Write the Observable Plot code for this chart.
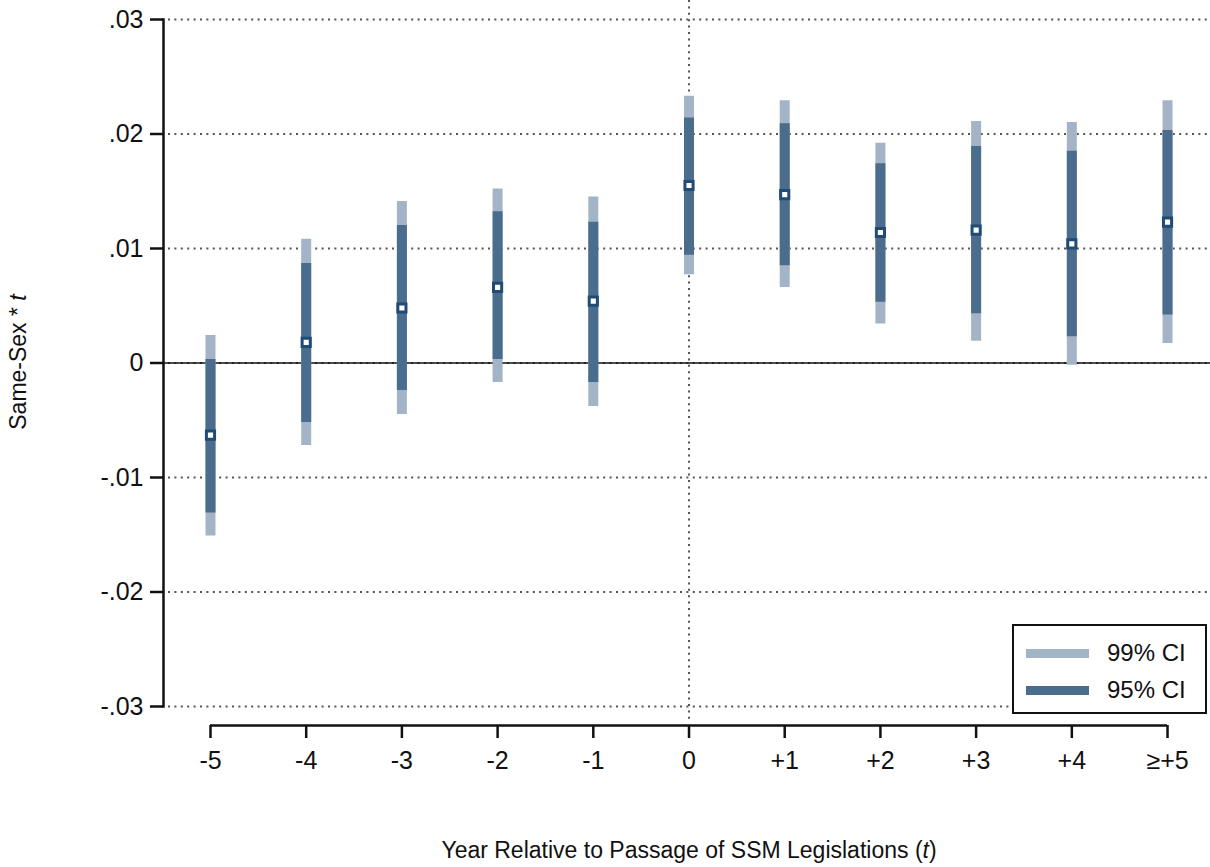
<!DOCTYPE html>
<html>
<head>
<meta charset="utf-8">
<script src="https://cdn.jsdelivr.net/npm/d3@7"></script>
<script src="https://cdn.jsdelivr.net/npm/@observablehq/plot@0.6"></script>
<style>
  html, body { margin: 0; padding: 0; background: #fff; }
  #wrap { position: relative; width: 1210px; height: 867px; font-family: "Liberation Sans", Arial, sans-serif; color: #111; }
  #wrap svg { position: absolute; left: 0; top: 0; }
  .ytitle { position: absolute; left: 18px; top: 362px; transform: translate(-50%, -50%) rotate(-90deg); font-size: 23px; white-space: nowrap; }
  .xtitle { position: absolute; left: 689px; top: 850px; transform: translate(-50%, -50%); font-size: 23px; white-space: nowrap; }
  .legend { position: absolute; left: 1012px; top: 624px; width: 191px; height: 86px; border: 2px solid #111; background: #fff; }
  .legend .row { position: absolute; left: 12px; height: 30px; display: flex; align-items: center; }
  .legend .sw { width: 63px; height: 9px; margin-right: 18px; }
  .legend .lab { font-size: 24px; }
</style>
</head>
<body>
<div id="wrap"></div>
<script>
const labels = ["-5", "-4", "-3", "-2", "-1", "0", "+1", "+2", "+3", "+4", "≥+5"];
const coef = [-0.0063, 0.0018, 0.0048, 0.0066, 0.0054, 0.0155, 0.0147, 0.0114, 0.0116, 0.0104, 0.0123];
const lo95 = [-0.0131, -0.0052, -0.0024, 0.0003, -0.0017, 0.0094, 0.0085, 0.0053, 0.0043, 0.0023, 0.0042];
const hi95 = [0.0003, 0.0087, 0.0120, 0.0132, 0.0123, 0.0214, 0.0209, 0.0174, 0.0189, 0.0185, 0.0203];
const lo99 = [-0.0151, -0.0072, -0.0045, -0.0017, -0.0038, 0.0077, 0.0066, 0.0034, 0.0019, -0.0002, 0.0017];
const hi99 = [0.0024, 0.0108, 0.0141, 0.0152, 0.0145, 0.0233, 0.0229, 0.0192, 0.0211, 0.0210, 0.0229];
const yTicks = [-0.03, -0.02, -0.01, 0, 0.01, 0.02, 0.03];
const yTickLabels = ["-.03", "-.02", "-.01", "0", ".01", ".02", ".03"];

const c99 = "#a3b4c6";
const c95 = "#4a6c8d";
const cMark = "#1f4b75";

const rows = labels.map((l, i) => ({i, label: l, coef: coef[i], lo95: lo95[i], hi95: hi95[i], lo99: lo99[i], hi99: hi99[i]}));
const zeroIndex = labels.indexOf("0");

const chart = Plot.plot({
  width: 1210,
  height: 867,
  marginLeft: 163,
  marginRight: 0,
  marginTop: 19,
  marginBottom: 161,
  style: {fontFamily: "'Liberation Sans', Arial, sans-serif", fontSize: "23px", color: "#111", background: "transparent"},
  x: {type: "linear", domain: [-0.491, 10.449], axis: null},
  y: {domain: [-0.03, 0.03], axis: null},
  marks: [
    Plot.gridY(yTicks, {stroke: "#555", strokeOpacity: 1, strokeWidth: 2, strokeDasharray: "2,4.4", insetLeft: 5}),
    Plot.ruleX([zeroIndex], {stroke: "#555", strokeWidth: 2, strokeDasharray: "2,4.4", insetTop: -19, insetBottom: -13}),
    Plot.ruleY([0], {stroke: "#111", strokeWidth: 1.5}),
    Plot.ruleX(rows, {x: "i", y1: "lo99", y2: "hi99", stroke: c99, strokeWidth: 10}),
    Plot.ruleX(rows, {x: "i", y1: "lo95", y2: "hi95", stroke: c95, strokeWidth: 10}),
    Plot.dot(rows, {x: "i", y: "coef", symbol: "square", r: 4.6, fill: "white", stroke: cMark, strokeWidth: 3}),
    Plot.frame({anchor: "left", stroke: "#111", strokeWidth: 2.5}),
    Plot.axisY(yTicks, {tickFormat: (d, k) => yTickLabels[k], tickSize: 13, tickPadding: 7, fontSize: 25, strokeWidth: 2.5, label: null}),
    Plot.ruleY([-0.03], {x1: 0, x2: labels.length - 1, dy: 19, stroke: "#111", strokeWidth: 2.5}),
    Plot.axisX(d3.range(labels.length), {tickFormat: d => labels[d], tickSize: 13, tickPadding: 13, dy: 19, fontSize: 25, strokeWidth: 2.5, label: null})
  ]
});

const wrap = document.getElementById("wrap");
wrap.appendChild(chart);

const yt = document.createElement("div");
yt.className = "ytitle";
yt.innerHTML = "Same-Sex * <i>t</i>";
wrap.appendChild(yt);

const xt = document.createElement("div");
xt.className = "xtitle";
xt.innerHTML = "Year Relative to Passage of SSM Legislations (<i>t</i>)";
wrap.appendChild(xt);

const lg = document.createElement("div");
lg.className = "legend";
[["99% CI", c99, 12], ["95% CI", c95, 49]].forEach(([t, c, top]) => {
  const r = document.createElement("div");
  r.className = "row";
  r.style.top = top + "px";
  const s = document.createElement("div");
  s.className = "sw";
  s.style.background = c;
  const l = document.createElement("span");
  l.className = "lab";
  l.textContent = t;
  r.appendChild(s); r.appendChild(l);
  lg.appendChild(r);
});
wrap.appendChild(lg);
</script>
</body>
</html>
